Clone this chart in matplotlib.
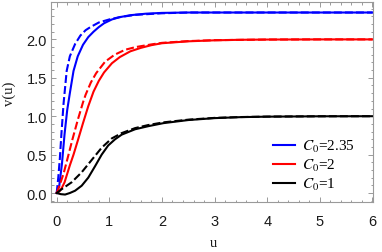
import matplotlib
matplotlib.use("Agg")
import matplotlib.pyplot as plt
from matplotlib.ticker import MultipleLocator, FuncFormatter
from matplotlib.lines import Line2D

plt.rcParams['mathtext.fontset'] = 'stix'

# C0 = 2.35 (blue)
u_b_solid = [0, 0.05, 0.1, 0.15, 0.2, 0.25, 0.32, 0.4, 0.5, 0.6, 0.7, 0.8, 0.9, 1.05, 1.2, 1.4, 1.7, 2.0, 2.5, 3.0, 4.0, 5.0, 6.0]
v_b_solid = [0, 0.10, 0.38, 0.77, 1.08, 1.30, 1.59, 1.78, 1.93, 2.03, 2.10, 2.16, 2.21, 2.26, 2.29, 2.315, 2.335, 2.345, 2.35, 2.35, 2.35, 2.35, 2.35]
u_b_dash = [0, 0.03, 0.06, 0.09, 0.13, 0.19, 0.25, 0.35, 0.45, 0.55, 0.64, 0.8, 1.0, 1.2, 1.5, 2.0, 2.5, 3.0, 4.0, 5.0, 6.0]
v_b_dash = [0, 0.20, 0.45, 0.77, 1.16, 1.59, 1.78, 1.94, 2.05, 2.12, 2.16, 2.22, 2.26, 2.29, 2.32, 2.34, 2.35, 2.35, 2.35, 2.35, 2.35]

# C0 = 2 (red)
u_r_solid = [0, 0.05, 0.1, 0.15, 0.2, 0.25, 0.32, 0.4, 0.5, 0.6, 0.7, 0.8, 0.9, 1.05, 1.2, 1.4, 1.6, 1.8, 2.0, 2.5, 3.0, 3.5, 4.0, 5.0, 6.0]
v_r_solid = [0, 0.02, 0.07, 0.14, 0.25, 0.36, 0.50, 0.68, 0.91, 1.13, 1.32, 1.46, 1.57, 1.69, 1.77, 1.845, 1.89, 1.925, 1.95, 1.975, 1.988, 1.995, 1.998, 2.0, 2.0]
u_r_dash = [0, 0.05, 0.1, 0.13, 0.21, 0.3, 0.4, 0.5, 0.55, 0.65, 0.75, 0.92, 1.1, 1.3, 1.5, 1.8, 2.0, 2.5, 3.0, 4.0, 5.0, 6.0]
v_r_dash = [0, 0.09, 0.19, 0.25, 0.46, 0.70, 0.95, 1.18, 1.28, 1.44, 1.56, 1.71, 1.80, 1.865, 1.90, 1.935, 1.955, 1.978, 1.99, 1.998, 2.0, 2.0]

# C0 = 1 (black)
u_k_solid = [0, 0.08, 0.16, 0.25, 0.35, 0.475, 0.6, 0.73, 0.855, 0.98, 1.11, 1.235, 1.49, 1.74, 2.03, 2.5, 3.0, 3.5, 4.0, 5.0, 6.0]
v_k_solid = [0, -0.015, -0.02, 0.0, 0.03, 0.095, 0.20, 0.35, 0.50, 0.62, 0.70, 0.76, 0.83, 0.87, 0.91, 0.95, 0.975, 0.988, 0.994, 0.999, 1.0]
u_k_dash = [0, 0.095, 0.285, 0.475, 0.665, 0.855, 1.045, 1.235, 1.49, 1.74, 2.03, 2.5, 3.0, 3.5, 4.0, 5.0, 6.0]
v_k_dash = [0, 0.05, 0.14, 0.27, 0.43, 0.59, 0.71, 0.78, 0.845, 0.885, 0.92, 0.955, 0.978, 0.989, 0.995, 0.999, 1.0]

labels = [r'$C_0$=2.35', r'$C_0$=2', r'$C_0$=1']
colors = ['#0000ff', '#ff0000', '#000000']

fig = plt.figure(figsize=(3.82, 2.53), dpi=100)
ax = fig.add_axes([51/382, 50/253, 322/382, 199.7/253])

lw = 1.5
dash = (3.8, 1.5)
ax.plot(u_b_solid, v_b_solid, color=colors[0], lw=lw)
ax.plot(u_b_dash, v_b_dash, color=colors[0], lw=lw, dashes=dash)
ax.plot(u_r_solid, v_r_solid, color=colors[1], lw=lw)
ax.plot(u_r_dash, v_r_dash, color=colors[1], lw=lw, dashes=dash)
ax.plot(u_k_solid, v_k_solid, color=colors[2], lw=lw)
ax.plot(u_k_dash, v_k_dash, color=colors[2], lw=lw, dashes=dash)

ax.set_xlim(-0.108, 6.01)
ax.set_ylim(-0.117, 2.483)

ax.xaxis.set_major_locator(MultipleLocator(1))
ax.xaxis.set_minor_locator(MultipleLocator(0.2))
ax.yaxis.set_major_locator(MultipleLocator(0.5))
ax.yaxis.set_minor_locator(MultipleLocator(0.1))
ax.xaxis.set_major_formatter(FuncFormatter(lambda x, p: f"{x:.0f}"))
ax.yaxis.set_major_formatter(FuncFormatter(lambda y, p: f"{y:.1f}"))

frame_col = '#9a9a9a'
for s in ax.spines.values():
    s.set_color(frame_col)
    s.set_linewidth(0.8)
ax.tick_params(which='both', direction='in', top=True, right=True, color=frame_col, width=0.7,
               labelsize=10.5, labelcolor='#1a1a1a')
ax.tick_params(which='major', length=3.5)
ax.tick_params(which='minor', length=1.8)
ax.tick_params(axis='x', which='major', pad=8.5)
ax.tick_params(axis='y', which='major', pad=3)
for t in ax.get_xticklabels() + ax.get_yticklabels():
    t.set_fontfamily('Liberation Sans')

fig.text(213/382, 1 - 244/253, 'u', family='Liberation Serif', fontsize=10.5,
         color='#1a1a1a', ha='center', va='center')
fig.text(9/382, 1 - 94/253, 'v(u)', family='Liberation Serif', fontsize=10.5,
         color='#1a1a1a', ha='center', va='center', rotation=90)

handles = [Line2D([], [], color=c, lw=lw) for c in colors]
leg = ax.legend(handles, labels, loc='lower right', frameon=False,
                prop={'family': 'Liberation Serif', 'size': 11},
                handlelength=1.45, handletextpad=0.45, labelspacing=0.2,
                bbox_to_anchor=(0.978, -0.005), borderaxespad=0.3)

fig.savefig('out.png', dpi=100)
